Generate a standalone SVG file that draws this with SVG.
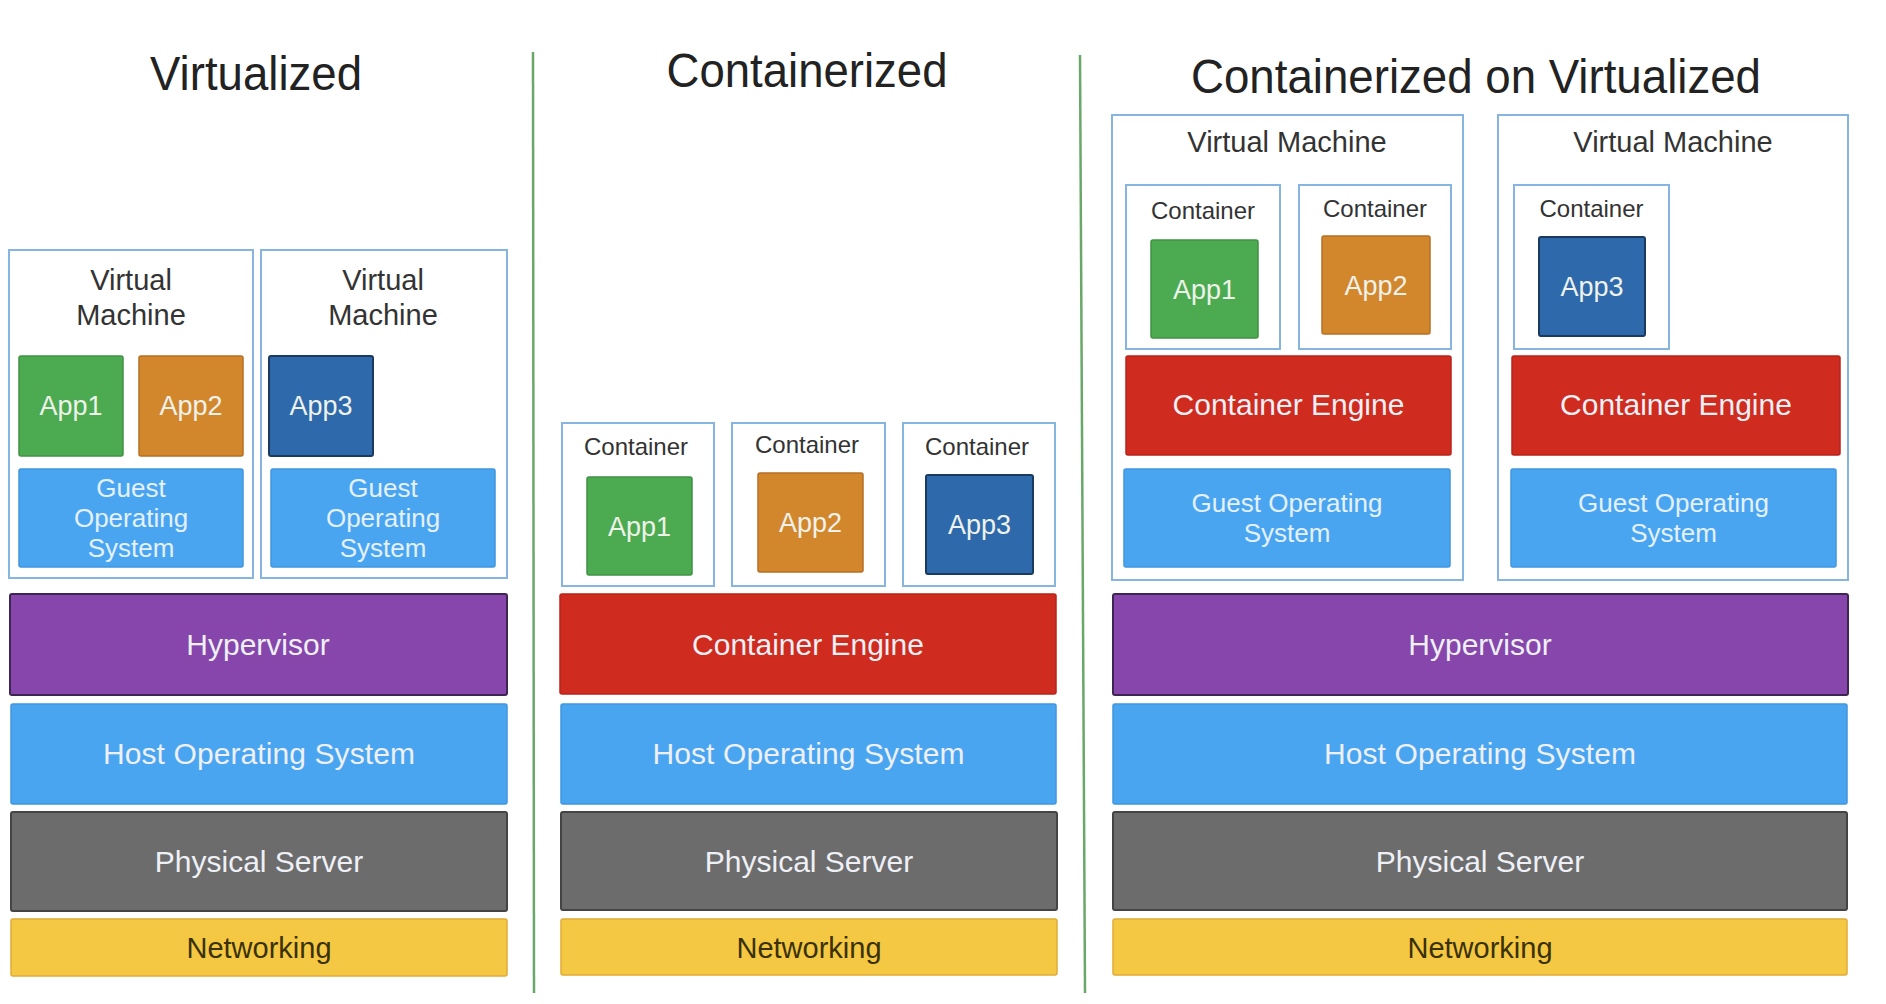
<svg xmlns="http://www.w3.org/2000/svg" width="1886" height="1004" viewBox="0 0 1886 1004">
<style>
  text { font-family: "Liberation Sans", Arial, sans-serif; text-anchor: middle; }
  .title { font-size: 48px; fill: #222; }
  .lbl { font-size: 29px; fill: #333; }
  .clbl { font-size: 24px; fill: #333; }
  .light { fill: #eef4fa; }
  .app { font-size: 27px; fill: #eef2ea; }
  .layer { font-size: 30px; fill: #eef0f6; }
  .guest { font-size: 26px; fill: #e4f1fd; }
  .nettxt { font-size: 29px; fill: #3a3104; }
  .box { fill: #fff; stroke: #86b6df; stroke-width: 2; }
  .a1 { fill: #4cab50; stroke: #3f9343; stroke-width: 1.5; }
  .a2 { fill: #d3872d; stroke: #b66f22; stroke-width: 1.5; }
  .a3 { fill: #2d69ab; stroke: #1b3a60; stroke-width: 2; }
  .os { fill: #4aa5f1; stroke: #3f96de; stroke-width: 1.5; }
  .hyp { fill: #8646ab; stroke: #3e2553; stroke-width: 2; }
  .eng { fill: #cf2b1f; stroke: #b8241a; stroke-width: 1.5; }
  .phys { fill: #6c6c6c; stroke: #444; stroke-width: 2; }
  .net { fill: #f4c843; stroke: #e1ab36; stroke-width: 1.5; }
  .div { stroke: #6aa86a; stroke-width: 2.5; fill: none; }
</style>
<rect width="1886" height="1004" fill="#fff"/>

<g id="titles">
  <text class="title" x="256" y="90" textLength="212" lengthAdjust="spacingAndGlyphs">Virtualized</text>
  <text class="title" x="807" y="87" textLength="281" lengthAdjust="spacingAndGlyphs">Containerized</text>
  <text class="title" x="1476" y="93" textLength="570" lengthAdjust="spacingAndGlyphs">Containerized on Virtualized</text>
</g>

<g id="dividers">
  <line class="div" x1="533" y1="52" x2="534" y2="993"/>
  <line class="div" x1="1080" y1="55" x2="1085" y2="993"/>
</g>

<!-- Virtualized column -->
<g id="vm1">
  <rect class="box" x="9" y="250" width="244" height="328"/>
  <text class="lbl" x="131" y="290">Virtual</text>
  <text class="lbl" x="131" y="325">Machine</text>
</g>
<g id="vm1-app1">
  <rect class="a1" x="19" y="356" width="104" height="100" rx="2"/>
  <text class="app" x="71" y="415">App1</text>
</g>
<g id="vm1-app2">
  <rect class="a2" x="139" y="356" width="104" height="100" rx="2"/>
  <text class="app" x="191" y="415">App2</text>
</g>
<g id="vm1-guest">
  <rect class="os" x="19" y="469" width="224" height="98" rx="2"/>
  <text class="guest" x="131" y="497">Guest</text>
  <text class="guest" x="131" y="527">Operating</text>
  <text class="guest" x="131" y="557">System</text>
</g>
<g id="vm2">
  <rect class="box" x="261" y="250" width="246" height="328"/>
  <text class="lbl" x="383" y="290">Virtual</text>
  <text class="lbl" x="383" y="325">Machine</text>
</g>
<g id="vm2-app3">
  <rect class="a3" x="269" y="356" width="104" height="100" rx="2"/>
  <text class="app" x="321" y="415">App3</text>
</g>
<g id="vm2-guest">
  <rect class="os" x="271" y="469" width="224" height="98" rx="2"/>
  <text class="guest" x="383" y="497">Guest</text>
  <text class="guest" x="383" y="527">Operating</text>
  <text class="guest" x="383" y="557">System</text>
</g>
<g id="v-hypervisor">
  <rect class="hyp" x="10" y="594" width="497" height="101" rx="2"/>
  <text class="layer" x="258" y="655">Hypervisor</text>
</g>
<g id="v-hostos">
  <rect class="os" x="11" y="704" width="496" height="100" rx="2"/>
  <text class="layer" x="259" y="764" textLength="312">Host Operating System</text>
</g>
<g id="v-physical">
  <rect class="phys" x="11" y="812" width="496" height="99" rx="2"/>
  <text class="layer" x="259" y="872">Physical Server</text>
</g>
<g id="v-network">
  <rect class="net" x="11" y="919" width="496" height="57" rx="2"/>
  <text class="nettxt" x="259" y="958">Networking</text>
</g>

<!-- Containerized column -->
<g id="c-cont1">
  <rect class="box" x="562" y="423" width="152" height="163"/>
  <text class="clbl" x="636" y="455">Container</text>
  <rect class="a1" x="587" y="477" width="105" height="98" rx="2"/>
  <text class="app" x="639.5" y="536">App1</text>
</g>
<g id="c-cont2">
  <rect class="box" x="732" y="423" width="153" height="163"/>
  <text class="clbl" x="807" y="453">Container</text>
  <rect class="a2" x="758" y="473" width="105" height="99" rx="2"/>
  <text class="app" x="810.5" y="532">App2</text>
</g>
<g id="c-cont3">
  <rect class="box" x="903" y="423" width="152" height="163"/>
  <text class="clbl" x="977" y="455">Container</text>
  <rect class="a3" x="926" y="475" width="107" height="99" rx="2"/>
  <text class="app" x="979.5" y="534">App3</text>
</g>
<g id="c-engine">
  <rect class="eng" x="560" y="594" width="496" height="100" rx="2"/>
  <text class="layer" x="808" y="655">Container Engine</text>
</g>
<g id="c-hostos">
  <rect class="os" x="561" y="704" width="495" height="100" rx="2"/>
  <text class="layer" x="808.5" y="764" textLength="312">Host Operating System</text>
</g>
<g id="c-physical">
  <rect class="phys" x="561" y="812" width="496" height="98" rx="2"/>
  <text class="layer" x="809" y="872">Physical Server</text>
</g>
<g id="c-network">
  <rect class="net" x="561" y="919" width="496" height="56" rx="2"/>
  <text class="nettxt" x="809" y="958">Networking</text>
</g>

<!-- Containerized on Virtualized column -->
<g id="cv-vm1">
  <rect class="box" x="1112" y="115" width="351" height="465"/>
  <text class="lbl" x="1287" y="152">Virtual Machine</text>
</g>
<g id="cv-vm1-cont1">
  <rect class="box" x="1126" y="185" width="154" height="164"/>
  <text class="clbl" x="1203" y="219">Container</text>
  <rect class="a1" x="1151" y="240" width="107" height="98" rx="2"/>
  <text class="app" x="1204.5" y="299">App1</text>
</g>
<g id="cv-vm1-cont2">
  <rect class="box" x="1299" y="185" width="152" height="164"/>
  <text class="clbl" x="1375" y="217">Container</text>
  <rect class="a2" x="1322" y="236" width="108" height="98" rx="2"/>
  <text class="app" x="1376" y="295">App2</text>
</g>
<g id="cv-vm1-engine">
  <rect class="eng" x="1126" y="356" width="325" height="99" rx="2"/>
  <text class="layer" x="1288.5" y="415">Container Engine</text>
</g>
<g id="cv-vm1-guest">
  <rect class="os" x="1124" y="469" width="326" height="98" rx="2"/>
  <text class="guest" x="1287" y="512">Guest Operating</text>
  <text class="guest" x="1287" y="542">System</text>
</g>
<g id="cv-vm2">
  <rect class="box" x="1498" y="115" width="350" height="465"/>
  <text class="lbl" x="1673" y="152">Virtual Machine</text>
</g>
<g id="cv-vm2-cont3">
  <rect class="box" x="1514" y="185" width="155" height="164"/>
  <text class="clbl" x="1591.5" y="217">Container</text>
  <rect class="a3" x="1539" y="237" width="106" height="99" rx="2"/>
  <text class="app" x="1592" y="296">App3</text>
</g>
<g id="cv-vm2-engine">
  <rect class="eng" x="1512" y="356" width="328" height="99" rx="2"/>
  <text class="layer" x="1676" y="415">Container Engine</text>
</g>
<g id="cv-vm2-guest">
  <rect class="os" x="1511" y="469" width="325" height="98" rx="2"/>
  <text class="guest" x="1673.5" y="512">Guest Operating</text>
  <text class="guest" x="1673.5" y="542">System</text>
</g>
<g id="cv-hypervisor">
  <rect class="hyp" x="1113" y="594" width="735" height="101" rx="2"/>
  <text class="layer" x="1480" y="655">Hypervisor</text>
</g>
<g id="cv-hostos">
  <rect class="os" x="1113" y="704" width="734" height="100" rx="2"/>
  <text class="layer" x="1480" y="764" textLength="312">Host Operating System</text>
</g>
<g id="cv-physical">
  <rect class="phys" x="1113" y="812" width="734" height="98" rx="2"/>
  <text class="layer" x="1480" y="872">Physical Server</text>
</g>
<g id="cv-network">
  <rect class="net" x="1113" y="919" width="734" height="56" rx="2"/>
  <text class="nettxt" x="1480" y="958">Networking</text>
</g>
</svg>
